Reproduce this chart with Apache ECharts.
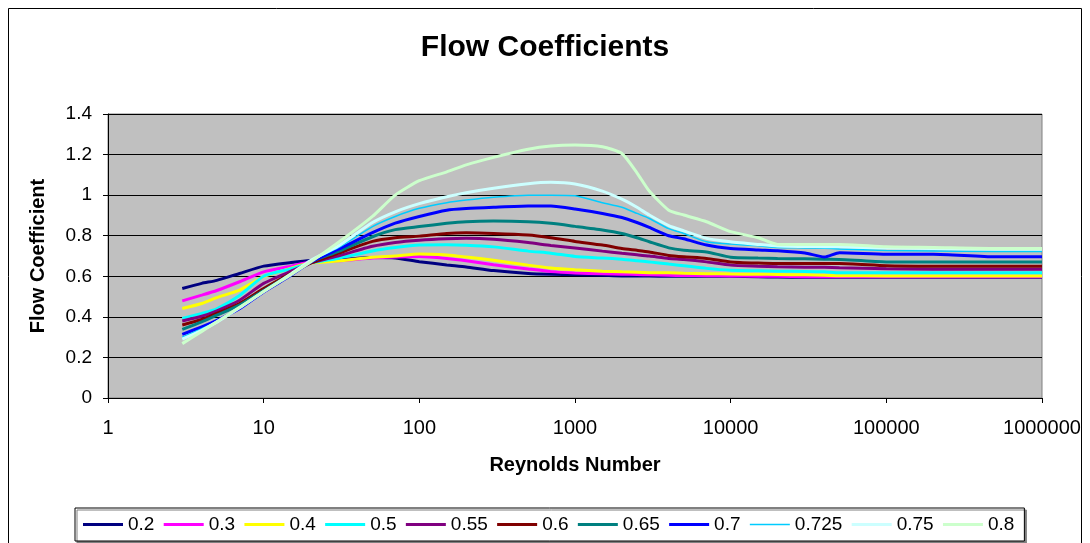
<!DOCTYPE html>
<html>
<head>
<meta charset="utf-8">
<script src="https://cdn.jsdelivr.net/npm/echarts@6/dist/echarts.min.js"></script>
<style>
  html, body { margin: 0; padding: 0; background: #fff; }
  #chart { width: 1090px; height: 543px; }
</style>
</head>
<body>
<div id="chart"></div>
<script>
var reynolds = [3, 4, 5, 7, 10, 15, 20, 30, 50, 70, 100, 150, 200, 300, 500, 700, 1000, 1500, 2000, 2500,
    3000, 4000, 5000, 7000, 10000, 15000, 20000, 30000, 40000, 50000, 100000, 200000, 500000, 1000000];

var seriesNames = ['0.2', '0.3', '0.4', '0.5', '0.55', '0.6', '0.65', '0.7', '0.725', '0.75', '0.8'];

var b020 = [0.54, 0.565, 0.58, 0.614, 0.65, 0.668, 0.678, 0.682, 0.692, 0.69, 0.672, 0.656, 0.646, 0.628, 0.614, 0.61, 0.608, 0.605, 0.602, 0.602,
    0.601, 0.60, 0.60, 0.60, 0.60, 0.598, 0.596, 0.595, 0.595, 0.595, 0.595, 0.595, 0.595, 0.595];
var b030 = [0.479, 0.507, 0.53, 0.573, 0.622, 0.65, 0.67, 0.676, 0.69, 0.695, 0.697, 0.688, 0.677, 0.657, 0.636, 0.623, 0.616, 0.612, 0.61, 0.609,
    0.607, 0.605, 0.604, 0.603, 0.602, 0.60, 0.60, 0.598, 0.598, 0.598, 0.598, 0.598, 0.598, 0.598];
var b040 = [0.441, 0.466, 0.495, 0.532, 0.598, 0.64, 0.665, 0.675, 0.694, 0.70, 0.71, 0.705, 0.695, 0.679, 0.655, 0.641, 0.632, 0.625, 0.622, 0.62,
    0.618, 0.617, 0.615, 0.613, 0.611, 0.61, 0.609, 0.607, 0.605, 0.603, 0.602, 0.602, 0.602, 0.602];
var b050 = [0.392, 0.417, 0.44, 0.505, 0.60, 0.637, 0.665, 0.688, 0.725, 0.742, 0.754, 0.755, 0.753, 0.745, 0.724, 0.714, 0.698, 0.69, 0.684, 0.677,
    0.671, 0.66, 0.652, 0.639, 0.63, 0.627, 0.625, 0.624, 0.622, 0.617, 0.617, 0.617, 0.617, 0.617];
var b055 = [0.38, 0.403, 0.43, 0.482, 0.565, 0.625, 0.665, 0.70, 0.748, 0.767, 0.778, 0.785, 0.787, 0.782, 0.766, 0.752, 0.74, 0.724, 0.713, 0.706,
    0.70, 0.688, 0.683, 0.671, 0.655, 0.65, 0.647, 0.645, 0.644, 0.642, 0.637, 0.635, 0.635, 0.635];
var b060 = [0.36, 0.387, 0.417, 0.466, 0.54, 0.615, 0.665, 0.713, 0.772, 0.79, 0.798, 0.811, 0.814, 0.811, 0.803, 0.79, 0.772, 0.754, 0.737, 0.728,
    0.72, 0.703, 0.696, 0.688, 0.671, 0.665, 0.663, 0.663, 0.663, 0.663, 0.652, 0.65, 0.65, 0.65];
var b065 = [0.338, 0.375, 0.408, 0.458, 0.53, 0.61, 0.67, 0.722, 0.795, 0.83, 0.845, 0.861, 0.869, 0.872, 0.869, 0.861, 0.846, 0.828, 0.811, 0.79,
    0.77, 0.74, 0.728, 0.72, 0.694, 0.69, 0.688, 0.686, 0.684, 0.683, 0.671, 0.671, 0.671, 0.671];
var b070 = [0.314, 0.35, 0.383, 0.44, 0.523, 0.605, 0.67, 0.732, 0.815, 0.862, 0.895, 0.926, 0.934, 0.94, 0.946, 0.946, 0.932, 0.91, 0.89, 0.865,
    0.841, 0.80, 0.785, 0.754, 0.737, 0.73, 0.726, 0.715, 0.695, 0.716, 0.709, 0.709, 0.696, 0.696];
var b0725 = [0.30, 0.342, 0.378, 0.445, 0.525, 0.61, 0.675, 0.74, 0.845, 0.895, 0.935, 0.963, 0.976, 0.99, 1.0, 1.0, 0.997, 0.963, 0.94, 0.91,
    0.885, 0.835, 0.811, 0.77, 0.759, 0.75, 0.742, 0.74, 0.738, 0.735, 0.727, 0.725, 0.722, 0.722];
var b075 = [0.29, 0.334, 0.374, 0.445, 0.525, 0.612, 0.678, 0.748, 0.865, 0.918, 0.958, 0.992, 1.012, 1.034, 1.056, 1.063, 1.055, 1.02, 0.98, 0.94,
    0.902, 0.85, 0.824, 0.787, 0.77, 0.757, 0.749, 0.747, 0.746, 0.745, 0.74, 0.737, 0.733, 0.733];
var b080 = [0.268, 0.328, 0.376, 0.447, 0.525, 0.608, 0.67, 0.765, 0.895, 1.0, 1.071, 1.115, 1.149, 1.186, 1.226, 1.242, 1.247, 1.239, 1.205, 1.11,
    1.02, 0.926, 0.902, 0.869, 0.82, 0.79, 0.757, 0.757, 0.757, 0.757, 0.745, 0.742, 0.737, 0.737];

var yTicks = [0, 0.2, 0.4, 0.6, 0.8, 1, 1.2, 1.4];

var allValues = [b020, b030, b040, b050, b055, b060, b065, b070, b0725, b075, b080];
var colors = ['#000080', '#ff00ff', '#ffff00', '#00ffff', '#800080', '#800000', '#008080', '#0000ff', '#00ccff', '#ccffff', '#ccffcc'];
var widths = [3, 3, 3, 3, 3, 3, 3, 3, 1.5, 3, 3];

var font = 'Liberation Sans, Arial, sans-serif';

var series = allValues.map(function (vals, i) {
    return {
        name: seriesNames[i],
        type: 'line',
        symbol: 'none',
        smooth: 0.2,
        data: vals.map(function (v, k) { return [reynolds[k], v]; }),
        lineStyle: { color: colors[i], width: widths[i] },
        itemStyle: { color: colors[i] }
    };
});

// legend swatches: plain line segments, thin one for 0.725
var legendData = seriesNames.map(function (n, i) {
    var h = widths[i] < 2 ? 1.5 : 3;
    return { name: n, icon: 'path://M0,0 L40,0 L40,' + h + ' L0,' + h + ' Z' };
});

var myChart = echarts.init(document.getElementById('chart'));
var option = {
    animation: false,
    color: colors,
    title: {
        text: 'Flow Coefficients',
        left: 'center',
        top: 28,
        textStyle: { fontFamily: font, fontSize: 30, fontWeight: 'bold', color: '#000' }
    },
    graphic: [{
        type: 'rect',
        shape: { x: 8.5, y: 8.5, width: 1073, height: 545 },
        style: { fill: 'none', stroke: '#000', lineWidth: 1 },
        silent: true
    }],
    legend: {
        data: legendData,
        left: 75,
        top: 508,
        itemWidth: 40,
        itemHeight: 3,
        itemGap: 9.3,
        padding: [7, 10, 7, 8],
        borderColor: '#000',
        borderWidth: 1,
        backgroundColor: '#fff',
        shadowColor: '#808080',
        shadowOffsetX: 2,
        shadowOffsetY: 2,
        shadowBlur: 0,
        textStyle: { fontFamily: font, fontSize: 19, color: '#000', lineHeight: 14 }
    },
    grid: {
        left: 108,
        top: 114,
        right: 48,
        bottom: 145,
        show: true,
        backgroundColor: '#c0c0c0',
        borderColor: '#808080',
        borderWidth: 1
    },
    xAxis: {
        type: 'log',
        logBase: 10,
        min: 1,
        max: 1000000,
        name: 'Reynolds Number',
        nameLocation: 'middle',
        nameGap: 57,
        nameTextStyle: { fontFamily: font, fontSize: 20, fontWeight: 'bold', color: '#000' },
        axisLine: { lineStyle: { color: '#000', width: 1 } },
        axisTick: { show: true, length: 5, inside: false, lineStyle: { color: '#000' } },
        minorTick: { show: false },
        splitLine: { show: false },
        axisLabel: {
            fontFamily: font,
            fontSize: 20,
            color: '#000',
            margin: 20,
            formatter: function (v) { return String(Math.round(v)); }
        }
    },
    yAxis: {
        type: 'value',
        min: yTicks[0],
        max: yTicks[yTicks.length - 1],
        interval: 0.2,
        name: 'Flow Coefficient',
        nameLocation: 'middle',
        nameGap: 60,
        nameTextStyle: { fontFamily: font, fontSize: 20, fontWeight: 'bold', color: '#000' },
        axisLine: { show: true, lineStyle: { color: '#000', width: 1 } },
        axisTick: { show: true, length: 5, lineStyle: { color: '#000' } },
        splitLine: { show: true, lineStyle: { color: '#000', width: 1 } },
        axisLabel: {
            fontFamily: font,
            fontSize: 19,
            color: '#000',
            margin: 16,
            formatter: function (v) { return String(Math.round(v * 10) / 10); }
        }
    },
    series: series
};
myChart.setOption(option);
</script>
</body>
</html>
